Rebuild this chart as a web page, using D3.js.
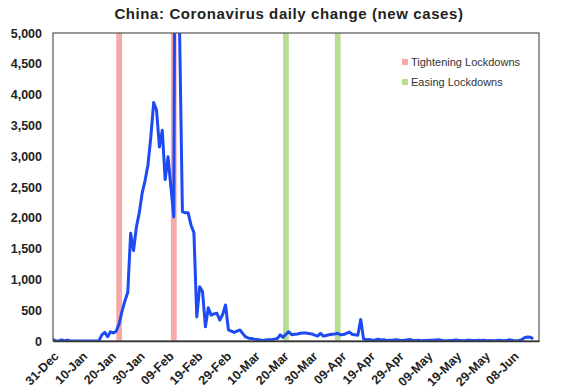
<!DOCTYPE html>
<html>
<head>
<meta charset="utf-8">
<script src="https://cdn.jsdelivr.net/npm/d3@7"></script>
<style>
  body { margin: 0; background: #fff; }
  svg { display: block; font-family: "Liberation Sans", Arial, sans-serif; }
</style>
</head>
<body>
<svg id="chart" width="570" height="392"></svg>
<script>
// daily new cases, one value per day starting at startDate
const startDate = '2019-12-31'
const dailyNewCases = [
  27, 0, 0, 17, 0, 15, 0, 0, 0, 0,
  0, 0, 0, 0, 0, 0, 5, 100, 140, 70,
  150, 130, 160, 280, 480, 650, 790, 1750, 1470, 1850,
  2080, 2400, 2600, 2850, 3300, 3870, 3750, 3150, 3420, 2620,
  2990, 2500, 2015, 14108, 5090, 2100, 2080, 2080, 1880, 1760,
  390, 880, 800, 230, 540, 420, 440, 450, 340, 430,
  585, 180, 160, 140, 160, 180, 120, 65, 45, 40,
  30, 25, 15, 10, 15, 20, 20, 30, 40, 100,
  60, 110, 150, 100, 110, 115, 125, 130, 130, 120,
  115, 95, 80, 125, 80, 90, 100, 110, 115, 125,
  100, 105, 125, 145, 110, 100, 95, 350, 30, 20,
  25, 12, 18, 30, 16, 22, 10, 14, 12, 20,
  15, 8, 12, 18, 25, 14, 10, 12, 6, 9,
  8, 14, 11, 17, 20, 12, 6, 5, 7, 10,
  16, 11, 9, 6, 12, 14, 8, 10, 11, 7,
  12, 4, 9, 6, 8, 13, 10, 5, 11, 19,
  7, 6, 9, 20, 55, 65, 60, 40
]
const tighteningDates = ['2020-01-23', '2020-02-11']
const easingDates = ['2020-03-21', '2020-04-08']
const xTickDates = ['2019-12-31', '2020-01-10', '2020-01-20', '2020-01-30', '2020-02-09',
  '2020-02-19', '2020-02-29', '2020-03-10', '2020-03-20', '2020-03-30', '2020-04-09',
  '2020-04-19', '2020-04-29', '2020-05-09', '2020-05-19', '2020-05-29', '2020-06-08']
const yTicks = [0, 500, 1000, 1500, 2000, 2500, 3000, 3500, 4000, 4500, 5000]
const xDomain = ['2019-12-31', '2020-06-17']

const parse = d3.utcParse('%Y-%m-%d')
const start = parse(startDate)
const series = dailyNewCases.map((v, i) => ({ date: d3.utcDay.offset(start, i), value: v }))

const plot = { left: 53, right: 539, top: 33, bottom: 341 }

const x = d3.scaleUtc().domain(xDomain.map(parse)).range([plot.left, plot.right])
const y = d3.scaleLinear().domain([0, 5000]).range([plot.bottom, plot.top])

const svg = d3.select('#chart')

svg.append('defs').append('clipPath').attr('id', 'plotClip')
  .append('rect')
  .attr('x', plot.left).attr('y', plot.top)
  .attr('width', plot.right - plot.left).attr('height', plot.bottom - plot.top)

// title
svg.append('text')
  .attr('x', 289).attr('y', 19)
  .attr('text-anchor', 'middle')
  .style('font-size', '15px').style('font-weight', 'bold').style('fill', '#222')
  .style('letter-spacing', '0.6px')
  .text('China: Coronavirus daily change (new cases)')

// lockdown bands
const bandWidth = d => x(d3.utcDay.offset(d, 1)) - x(d3.utcDay.offset(d, -1))
const bands = svg.append('g')
bands.selectAll('.tight').data(tighteningDates.map(parse))
  .enter().append('rect')
  .attr('x', d => x(d3.utcDay.offset(d, -1)))
  .attr('width', bandWidth)
  .attr('y', y(5000)).attr('height', y(0) - y(5000))
  .style('fill', '#f6a9a9')
bands.selectAll('.ease').data(easingDates.map(parse))
  .enter().append('rect')
  .attr('x', d => x(d3.utcDay.offset(d, -1)))
  .attr('width', bandWidth)
  .attr('y', y(5000)).attr('height', y(0) - y(5000))
  .style('fill', '#b9de93')

// series line
const line = d3.line().x(d => x(d.date)).y(d => y(d.value))
svg.append('path').datum(series)
  .attr('clip-path', 'url(#plotClip)')
  .attr('d', line)
  .style('fill', 'none')
  .style('stroke', '#1d4af2')
  .style('stroke-width', 3)
  .style('stroke-linejoin', 'round')

// frame
svg.append('rect')
  .attr('x', plot.left).attr('y', plot.top)
  .attr('width', plot.right - plot.left).attr('height', plot.bottom - plot.top)
  .style('fill', 'none').style('stroke', '#555').style('stroke-width', 1.2)

// y axis
const yAxis = svg.append('g')
  .attr('transform', `translate(${plot.left}, 0)`)
  .call(d3.axisLeft(y).tickValues(yTicks).tickSize(0).tickPadding(11).tickFormat(d3.format(',')))
yAxis.select('.domain').remove()
yAxis.selectAll('text')
  .style('font-size', '12.5px').style('font-weight', 'bold').style('fill', '#222')
  .style('font-family', '"Liberation Sans", Arial, sans-serif')

// x axis
const xAxis = svg.append('g')
  .attr('transform', `translate(0, ${plot.bottom})`)
  .call(d3.axisBottom(x).tickValues(xTickDates.map(parse)).tickSize(0).tickFormat(d3.utcFormat('%d-%b')))
xAxis.select('.domain').style('stroke', '#333').style('stroke-width', 1.5)
xAxis.selectAll('text')
  .attr('y', 0).attr('dy', 0)
  .attr('transform', 'translate(6, 16) rotate(-45)')
  .style('text-anchor', 'end')
  .style('font-size', '12.5px').style('font-weight', 'bold').style('fill', '#222')
  .style('font-family', '"Liberation Sans", Arial, sans-serif')

// legend
const legendItems = [
  { label: 'Tightening Lockdowns', color: '#f6a9a9' },
  { label: 'Easing Lockdowns', color: '#b9de93' }
]
const legend = svg.append('g').attr('transform', 'translate(402, 62)')
legend.selectAll('rect').data(legendItems)
  .enter().append('rect')
  .attr('x', 0).attr('y', (d, i) => i * 20 - 3)
  .attr('width', 6).attr('height', 6)
  .style('fill', d => d.color)
legend.selectAll('text').data(legendItems)
  .enter().append('text')
  .attr('x', 9).attr('y', (d, i) => i * 20 + 4)
  .style('font-size', '11px').style('fill', '#333')
  .text(d => d.label)
</script>
</body>
</html>
